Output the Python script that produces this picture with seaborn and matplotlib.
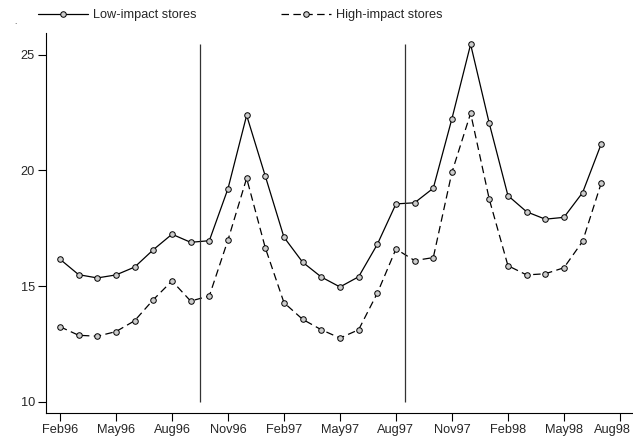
import numpy as np
import pandas as pd
import matplotlib
matplotlib.use('Agg')
import matplotlib.pyplot as plt
import matplotlib.transforms as mtrans
import seaborn as sns

months = ['Feb96', 'Mar96', 'Apr96', 'May96', 'Jun96', 'Jul96', 'Aug96', 'Sep96',
          'Oct96', 'Nov96', 'Dec96', 'Jan97', 'Feb97', 'Mar97', 'Apr97', 'May97',
          'Jun97', 'Jul97', 'Aug97', 'Sep97', 'Oct97', 'Nov97', 'Dec97', 'Jan98',
          'Feb98', 'Mar98', 'Apr98', 'May98', 'Jun98', 'Jul98']

low_impact = [16.16, 15.49, 15.35, 15.48, 15.82, 16.57, 17.24, 16.89,
              16.96, 19.21, 22.38, 19.75, 17.11, 16.03, 15.39, 14.96,
              15.40, 16.80, 18.55, 18.60, 19.23, 22.24, 25.45, 22.03,
              18.91, 18.21, 17.89, 17.97, 19.04, 21.15]

high_impact = [13.24, 12.87, 12.83, 13.03, 13.50, 14.41, 15.22, 14.35,
               14.57, 16.99, 19.66, 16.65, 14.28, 13.56, 13.11, 12.75,
               13.11, 14.69, 16.60, 16.10, 16.23, 19.92, 22.47, 18.75,
               15.88, 15.48, 15.53, 15.79, 16.93, 19.46]

tick_labels = ['Feb96', 'May96', 'Aug96', 'Nov96', 'Feb97', 'May97',
               'Aug97', 'Nov97', 'Feb98', 'May98', 'Aug98']
y_ticks = [10, 15, 20, 25]
# vertical reference lines, in months since Feb96
event_lines = [7.5, 18.5]

series_names = ['Low-impact stores', 'High-impact stores']

df = pd.DataFrame({
    'month': list(range(len(months))) * 2,
    'value': low_impact + high_impact,
    'series': [series_names[0]] * len(months) + [series_names[1]] * len(months),
})

sns.set_style('ticks')
plt.rcParams['font.family'] = ['Liberation Sans', 'DejaVu Sans']

fs = 9.2
mk = dict(marker='o', markersize=4, markerfacecolor='#cccccc',
          markeredgecolor='black', markeredgewidth=0.7)

fig = plt.figure(figsize=(6.33, 4.44), dpi=100)
ax = fig.add_axes([46 / 633, 31 / 444, 587 / 633, 380 / 444])

sns.lineplot(data=df, x='month', y='value', style='series', color='black',
             dashes={series_names[0]: '', series_names[1]: (6, 3.5)},
             markers={series_names[0]: 'o', series_names[1]: 'o'},
             markersize=4, markerfacecolor='#cccccc', markeredgecolor='black',
             markeredgewidth=0.7, linewidth=0.9, ax=ax, legend=False)

ax.vlines(event_lines, 10, max(low_impact), color='#333333', linewidth=0.9)

ax.set_xlim(-0.75, 30.7)
ax.set_ylim(9.51, 25.94)
ax.set_xticks(range(0, 31, 3))
ax.set_xticklabels(tick_labels, fontsize=fs)
ax.set_yticks(y_ticks)
ax.set_yticklabels([str(t) for t in y_ticks], fontsize=fs)
ax.tick_params(axis='both', length=6, width=0.8, color='black', pad=2)
ax.set_xlabel('')
ax.set_ylabel('')
for side in ['top', 'right']:
    ax.spines[side].set_visible(False)
for side in ['left', 'bottom']:
    ax.spines[side].set_linewidth(0.8)
    ax.spines[side].set_color('black')

# last label squeezed left so it stays inside the figure
last = ax.get_xticklabels()[-1]
last.set_transform(last.get_transform() + mtrans.ScaledTranslation(-8 / 100, 0, fig.dpi_scale_trans))

handles = [
    plt.Line2D([], [], color='black', linewidth=0.9, **mk),
    plt.Line2D([], [], color='black', linewidth=0.9, linestyle=(0, (6, 3.5)), **mk),
]
fig.legend(handles, series_names, loc='center left', bbox_to_anchor=(38 / 633, 1 - 15 / 444),
           ncol=2, frameon=False, fontsize=fs, handlelength=3.9, handletextpad=0.4,
           columnspacing=6.6, numpoints=1, borderpad=0, borderaxespad=0)

fig.text(15 / 633, 1 - 22 / 444, '.', fontsize=6, ha='center', va='center')

fig.savefig('out.png', dpi=100)
